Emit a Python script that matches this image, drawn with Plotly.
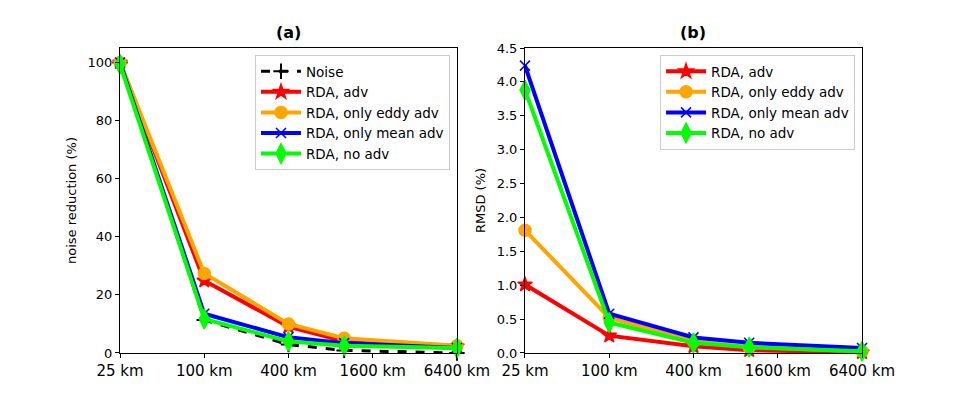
import plotly.graph_objects as go

# scales (km) on the x axis
scales = [25, 100, 400, 1000, 6400]
tick_vals = [25, 100, 400, 1600, 6400]
tick_text = ['25 km', '100 km', '400 km', '1600 km', '6400 km']

# (a) noise reduction (%)
noise = [100, 11.4, 2.9, 0.9, 0.0]
rda_adv_a = [100, 24.9, 9.1, 4.0, 2.3]
rda_eddy_a = [100, 27.4, 10.0, 5.1, 2.5]
rda_mean_a = [100, 13.5, 5.4, 3.4, 1.7]
rda_noadv_a = [99.4, 11.7, 4.0, 2.5, 1.7]

# (b) RMSD (%)
rda_adv_b = [1.01, 0.256, 0.098, 0.04, 0.01]
rda_eddy_b = [1.81, 0.52, 0.17, 0.09, 0.025]
rda_mean_b = [4.24, 0.58, 0.23, 0.15, 0.074]
rda_noadv_b = [3.88, 0.45, 0.15, 0.085, 0.025]

styles = [
    ('RDA, adv', 'red', 'star', 11),
    ('RDA, only eddy adv', 'orange', 'circle', 12),
    ('RDA, only mean adv', 'blue', 'x-thin', 10),
    ('RDA, no adv', 'lime', 'diamond-tall', 14),
]

FONT = 'DejaVu Sans'
fig = go.Figure()

# panel (a)
fig.add_trace(go.Scatter(
    x=scales, y=noise, name='Noise', mode='lines+markers',
    line=dict(color='black', width=3, dash='dash'),
    marker=dict(symbol='cross-thin', size=11, line=dict(color='black', width=2)),
    xaxis='x', yaxis='y', legend='legend', cliponaxis=False,
))
for (name, col, sym, sz), ys in zip(styles, [rda_adv_a, rda_eddy_a, rda_mean_a, rda_noadv_a]):
    fig.add_trace(go.Scatter(
        x=scales, y=ys, name=name, mode='lines+markers',
        line=dict(color=col, width=4),
        marker=dict(symbol=sym, size=sz, color=col, line=dict(color=col, width=1.5)),
        xaxis='x', yaxis='y', legend='legend', cliponaxis=False,
    ))

# panel (b)
for (name, col, sym, sz), ys in zip(styles, [rda_adv_b, rda_eddy_b, rda_mean_b, rda_noadv_b]):
    fig.add_trace(go.Scatter(
        x=scales, y=ys, name=name, mode='lines+markers',
        line=dict(color=col, width=4),
        marker=dict(symbol=sym, size=sz, color=col, line=dict(color=col, width=1.5)),
        xaxis='x2', yaxis='y2', legend='legend2', cliponaxis=False,
    ))

xcommon = dict(type='log', range=[1.39794, 3.80618], tickvals=tick_vals, ticktext=tick_text,
               showgrid=False, zeroline=False, showline=True, linecolor='black', linewidth=1,
               mirror=True, ticks='outside', ticklen=4, tickcolor='black', automargin=False,
               tickfont=dict(family=FONT, size=15, color='black'))
ycommon = dict(showgrid=False, zeroline=False, showline=True, linecolor='black', linewidth=1,
               mirror=True, ticks='outside', ticklen=4, tickcolor='black', automargin=False,
               tickfont=dict(family=FONT, size=13, color='black'))

legcommon = dict(xanchor='right', yanchor='top', bgcolor='rgba(255,255,255,0.8)',
                 bordercolor='#cccccc', borderwidth=1, tracegroupgap=0,
                 font=dict(family=FONT, size=13.5, color='black'), itemwidth=40)

# page body adds an 8px margin, so the figure is 942x381
fig.update_layout(
    width=942, height=381,
    margin=dict(l=0, r=0, t=0, b=0),
    paper_bgcolor='white', plot_bgcolor='white',
    font=dict(family=FONT, color='black'),
    xaxis=dict(domain=[0.1189, 0.4766], anchor='y', **xcommon),
    yaxis=dict(domain=[0.0945, 0.8950], anchor='x', range=[0, 105], tickvals=[0, 20, 40, 60, 80, 100],
               title=dict(text='noise reduction (%)', font=dict(family=FONT, size=13), standoff=8),
               **ycommon),
    xaxis2=dict(domain=[0.5488, 0.9066], anchor='y2', **xcommon),
    yaxis2=dict(domain=[0.0945, 0.8950], anchor='x2', range=[0, 4.5],
                tickvals=[0, 0.5, 1, 1.5, 2, 2.5, 3, 3.5, 4, 4.5],
                ticktext=['0.0', '0.5', '1.0', '1.5', '2.0', '2.5', '3.0', '3.5', '4.0', '4.5'],
                title=dict(text='RMSD (%)', font=dict(family=FONT, size=13), standoff=8),
                **ycommon),
    legend=dict(x=0.4692, y=0.8766, **legcommon),
    legend2=dict(x=0.8992, y=0.8766, **legcommon),
    annotations=[
        dict(text='<b>(a)</b>', x=(0.1189 + 0.4766) / 2, y=0.8950, xref='paper', yref='paper',
             xanchor='center', yanchor='bottom', yshift=4, showarrow=False,
             font=dict(family=FONT, size=16, color='black')),
        dict(text='<b>(b)</b>', x=(0.5488 + 0.9066) / 2, y=0.8950, xref='paper', yref='paper',
             xanchor='center', yanchor='bottom', yshift=4, showarrow=False,
             font=dict(family=FONT, size=16, color='black')),
    ],
)

fig.write_html('out.html')
